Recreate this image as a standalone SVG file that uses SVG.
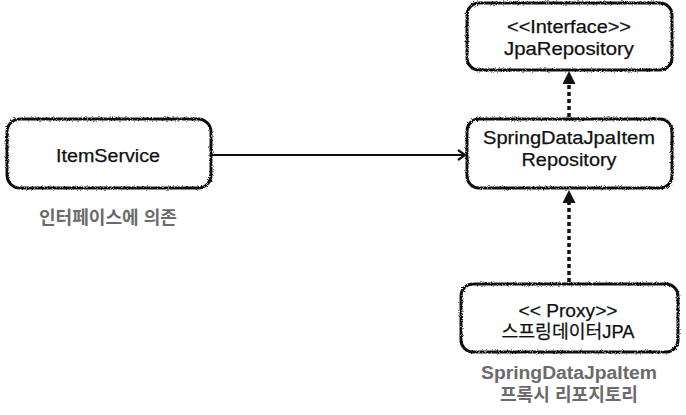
<svg xmlns="http://www.w3.org/2000/svg" width="686" height="415" viewBox="0 0 686 415">
<style>
.box{fill:#fff;stroke:#111;stroke-width:3}
.t{font-family:"Liberation Sans","Noto Sans CJK KR",sans-serif;font-size:18px;fill:#111;stroke:#111;stroke-width:0.25;text-anchor:middle}
.g{font-family:"Liberation Sans","Noto Sans CJK KR",sans-serif;font-size:18px;font-weight:bold;fill:#6b6b6b;text-anchor:middle}
.dot{stroke:#111;stroke-width:3.5;stroke-dasharray:4 3;fill:none}
</style>
<defs>
<filter id="rough" x="-5%" y="-5%" width="110%" height="110%">
<feTurbulence type="fractalNoise" baseFrequency="1.2" numOctaves="2" seed="3"/>
<feDisplacementMap in="SourceGraphic" scale="3"/>
</filter>
<marker id="open" markerWidth="12" markerHeight="12" refX="10" refY="6" orient="auto" markerUnits="userSpaceOnUse">
<path d="M3,1 L10,6 L3,11" fill="none" stroke="#111" stroke-width="2.2"/>
</marker>
</defs>
<rect width="686" height="415" fill="#fff"/>
<g id="connectors">
<line x1="212" y1="155" x2="465" y2="155" stroke="#111" stroke-width="2" marker-end="url(#open)"/>
<line class="dot" x1="569" y1="117" x2="569" y2="84"/>
<polygon points="569,71 575.5,84 562.5,84" fill="#111"/>
<line class="dot" x1="569" y1="282" x2="569" y2="203"/>
<polygon points="569,190 575.5,203 562.5,203" fill="#111"/>
</g>
<g id="itemService">
<rect class="box" x="7" y="119" width="204" height="69" rx="13" filter="url(#rough)"/>
<text class="t" x="108" y="162" textLength="104" lengthAdjust="spacingAndGlyphs">ItemService</text>
</g>
<text class="g" x="108" y="224" textLength="138" lengthAdjust="spacingAndGlyphs">인터페이스에 의존</text>
<g id="jpaRepository">
<rect class="box" x="467" y="3" width="205" height="67" rx="12" filter="url(#rough)"/>
<text class="t" x="569" y="33" textLength="124" lengthAdjust="spacingAndGlyphs">&lt;&lt;Interface&gt;&gt;</text>
<text class="t" x="569" y="55" textLength="130" lengthAdjust="spacingAndGlyphs">JpaRepository</text>
</g>
<g id="springDataJpaItemRepository">
<rect class="box" x="467" y="119" width="205" height="69" rx="12" filter="url(#rough)"/>
<text class="t" x="569" y="144" textLength="172" lengthAdjust="spacingAndGlyphs">SpringDataJpaItem</text>
<text class="t" x="569" y="166" textLength="95" lengthAdjust="spacingAndGlyphs">Repository</text>
</g>
<g id="proxy">
<rect class="box" x="461" y="284" width="217" height="68" rx="12" filter="url(#rough)"/>
<text class="t" x="568" y="317" textLength="99" lengthAdjust="spacingAndGlyphs">&lt;&lt; Proxy&gt;&gt;</text>
<text class="t" x="568" y="338" textLength="133" lengthAdjust="spacingAndGlyphs">스프링데이터JPA</text>
</g>
<text class="g" x="569" y="379" textLength="176" lengthAdjust="spacingAndGlyphs">SpringDataJpaItem</text>
<text class="g" x="569" y="401" textLength="138" lengthAdjust="spacingAndGlyphs">프록시 리포지토리</text>
</svg>
